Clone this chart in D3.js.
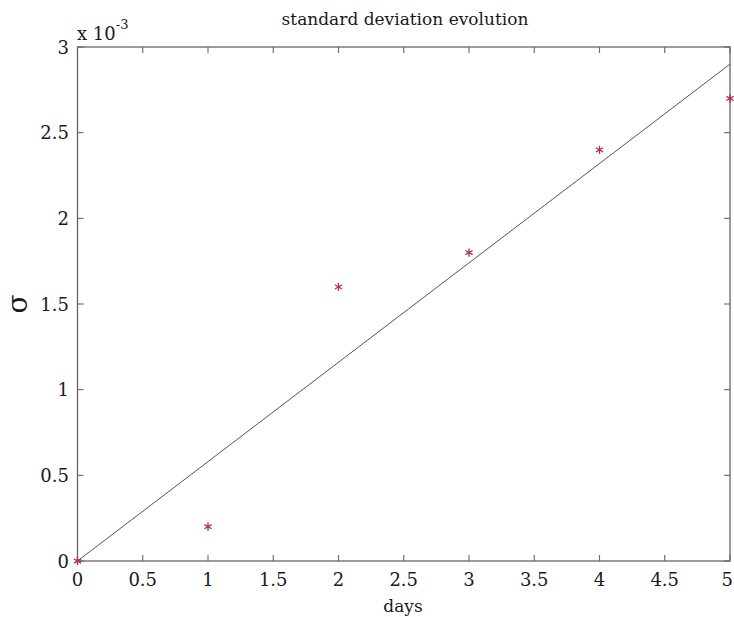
<!DOCTYPE html>
<html>
<head>
<meta charset="utf-8">
<script src="https://cdn.jsdelivr.net/npm/d3@7"></script>
<style>
  html, body { margin: 0; padding: 0; background: #fff; }
  svg text { font-family: "DejaVu Serif", "Liberation Serif", serif; fill: #1a1a1a; }
</style>
</head>
<body>
<svg id="chart" width="734" height="617"></svg>
<script>
// measured standard deviation per day (units of 1e-3)
const days = [0, 1, 2, 3, 4, 5];
const sigma = [0, 0.2, 1.6, 1.8, 2.4, 2.7];
const xTicks = [0, 0.5, 1, 1.5, 2, 2.5, 3, 3.5, 4, 4.5, 5];
const yTicks = [0, 0.5, 1, 1.5, 2, 2.5, 3];
const yTickLabels = ["0", "0.5", "1", "1.5", "2", "2.5", "3"];

// least-squares line through the origin
const slope = d3.sum(days, (d, i) => d * sigma[i]) / d3.sum(days, d => d * d);
const fitX = [0, 5];

const W = 734;
const svg = d3.select("#chart");
const m = { left: 77.5, right: 730, top: 47, bottom: 561 };
const x = d3.scaleLinear().domain([0, 5]).range([m.left, m.right]);
const y = d3.scaleLinear().domain([0, 3]).range([m.bottom, m.top]);
const axisColor = "#666";

// frame
svg.append("rect")
  .attr("x", m.left).attr("y", m.top)
  .attr("width", m.right - m.left).attr("height", m.bottom - m.top)
  .attr("fill", "none").attr("stroke", axisColor).attr("stroke-width", 1.3);

// inward ticks on all four sides
const tk = 6;
const g = svg.append("g").attr("stroke", axisColor).attr("stroke-width", 1.1);
xTicks.forEach(t => {
  g.append("line").attr("x1", x(t)).attr("x2", x(t)).attr("y1", m.bottom).attr("y2", m.bottom - tk);
  g.append("line").attr("x1", x(t)).attr("x2", x(t)).attr("y1", m.top).attr("y2", m.top + tk);
});
yTicks.forEach(t => {
  g.append("line").attr("y1", y(t)).attr("y2", y(t)).attr("x1", m.left).attr("x2", m.left + tk);
  g.append("line").attr("y1", y(t)).attr("y2", y(t)).attr("x1", m.right).attr("x2", m.right - tk);
});

// tick labels (kept inside the page at the right edge)
svg.append("g").selectAll("text").data(xTicks).join("text")
  .attr("x", d => x(d)).attr("y", 586)
  .attr("text-anchor", "middle").attr("font-size", 18)
  .text(d => d3.format("")(d))
  .each(function () {
    const b = this.getBBox();
    if (b.x + b.width > W - 1) d3.select(this).attr("x", +d3.select(this).attr("x") - (b.x + b.width - (W - 1)));
  });
svg.append("g").selectAll("text").data(yTicks).join("text")
  .attr("x", 69).attr("y", d => y(d) + 6.5)
  .attr("text-anchor", "end").attr("font-size", 18)
  .text((d, i) => yTickLabels[i]);

// exponent label
const ex = svg.append("text").attr("x", 77).attr("y", 40).attr("font-size", 18);
ex.append("tspan").text("x 10");
ex.append("tspan").attr("dy", -11).attr("font-size", 13).text("-3");

// fitted line
svg.append("path")
  .datum(fitX)
  .attr("d", d3.line().x(d => x(d)).y(d => y(slope * d)))
  .attr("fill", "none").attr("stroke", "#555").attr("stroke-width", 1);

// data markers (asterisks)
const star = d3.symbol().type(d3.symbolAsterisk).size(48);
svg.append("g").selectAll("path").data(days).join("path")
  .attr("transform", (d, i) => `translate(${x(d)},${y(sigma[i])})`)
  .attr("d", star)
  .attr("fill", "none").attr("stroke", "#b03050").attr("stroke-width", 1.3);

// title and axis labels
svg.append("text").attr("x", 405).attr("y", 25)
  .attr("text-anchor", "middle").attr("font-size", 17)
  .text("standard deviation evolution");
svg.append("text").attr("x", 403).attr("y", 612)
  .attr("text-anchor", "middle").attr("font-size", 17)
  .text("days");
svg.append("text")
  .attr("transform", "translate(27,304) rotate(-90)")
  .attr("text-anchor", "middle").attr("font-size", 28)
  .text("σ");
</script>
</body>
</html>
